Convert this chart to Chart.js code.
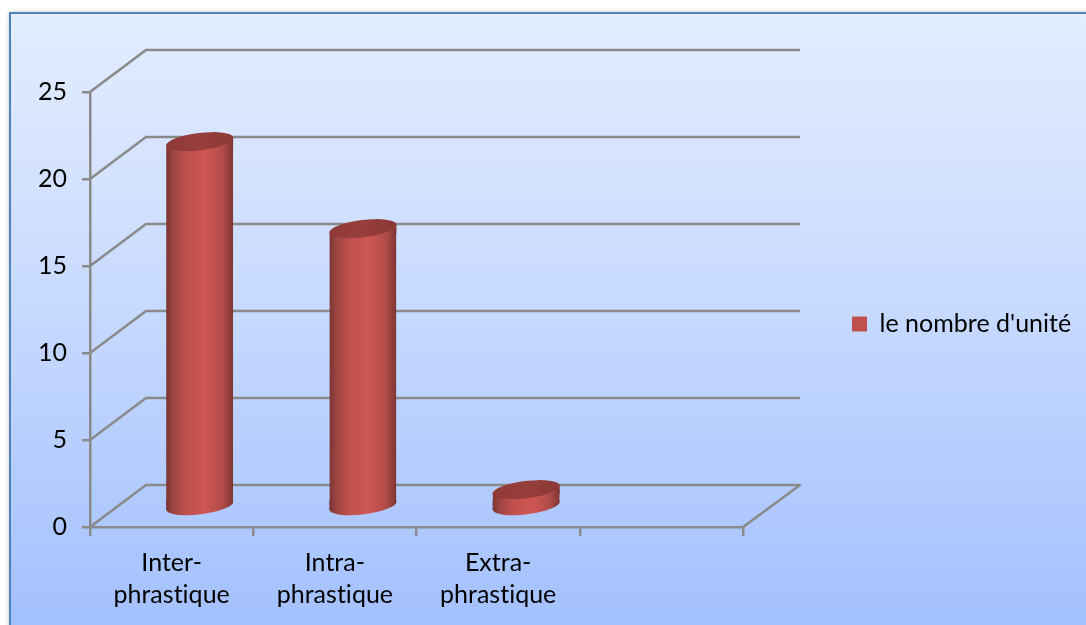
<!DOCTYPE html>
<html>
<head>
<meta charset="utf-8">
<style>html,body{margin:0;padding:0;background:#fff;overflow:hidden}canvas{display:block}</style>
<script src="https://cdn.jsdelivr.net/npm/chart.js@4"></script>
</head>
<body>
<canvas id="c" width="1086" height="625"></canvas>
<script>
const categories = [['Inter-','phrastique'],['Intra-','phrastique'],['Extra-','phrastique'],''];
const seriesName = "le nombre d'unité";
const values = [21, 16, 1, null];
const yMin = 0, yMax = 25, yStep = 5;

const FONT = 'Lato, Carlito, Calibri, sans-serif';
const FONT_SIZE = 25;
const AXIS = '#8a8a8a';
const BASE = '#C0504D';
const DX = 28, DY = -20, BACKX = 56, BACKY = -42;
const BARW = 67, RX = 33.8, RY = 8.6, TILT = -7 * Math.PI / 180, SLOPE = 4;

function shaded(ctx, cx, stops) {
  const g = ctx.createLinearGradient(cx - BARW/2, 0, cx + BARW/2, 0);
  stops.forEach(s => g.addColorStop(s[0], s[1]));
  return g;
}
const bodyStops = [[0,'#7a3432'],[0.1,'#9c4441'],[0.3,'#c0504d'],[0.6,'#cf5653'],[0.85,'#b04b48'],[1,'#7d3533']];
const capStops = [[0,'#8f3a38'],[0.5,'#973e3b'],[1,'#8b3836']];

function shown(meta) {
  return meta.data.filter((b, i) => values[i] !== null);
}

const panel = {
  id: 'panel',
  beforeDraw(chart) {
    const { ctx, width, height } = chart;
    ctx.letterSpacing = '0.01px';
    ctx.save();
    ctx.fillStyle = '#fff';
    ctx.fillRect(0, 0, width, height);
    ctx.shadowColor = 'rgba(0,0,0,0.35)';
    ctx.shadowBlur = 5;
    const g = ctx.createLinearGradient(0, 13, 0, 625);
    g.addColorStop(0, '#e3edff');
    g.addColorStop(0.45, '#c9dbff');
    g.addColorStop(1, '#a3c1ff');
    ctx.fillStyle = g;
    ctx.fillRect(10, 13, width + 20, height + 20);
    ctx.shadowColor = 'transparent';
    ctx.strokeStyle = '#4f81bd';
    ctx.lineWidth = 2;
    ctx.strokeRect(10, 13, width + 20, height + 20);
    ctx.restore();
  }
};

const walls = {
  id: 'walls',
  beforeDatasetsDraw(chart) {
    const { ctx, scales: { y }, chartArea: a } = chart;
    ctx.save();
    ctx.strokeStyle = AXIS;
    ctx.lineWidth = 2.5;
    ctx.lineJoin = 'round';
    y.ticks.forEach(t => {
      const py = y.getPixelForValue(t.value);
      ctx.beginPath();
      ctx.moveTo(a.left, py);
      ctx.lineTo(a.left + BACKX, py + BACKY);
      ctx.lineTo(a.right + BACKX + 1, py + BACKY);
      if (t.value === yMin) { ctx.lineTo(a.right, py); }
      ctx.stroke();
    });
    ctx.restore();
  }
};

function ellipse(ctx, cx, cy) {
  ctx.beginPath();
  ctx.ellipse(cx, cy, RX, RY, TILT, 0, Math.PI * 2);
  ctx.closePath();
}
function strip(ctx, b, yl, yr, y2) {
  ctx.beginPath();
  ctx.moveTo(b.x - BARW/2, yl);
  ctx.lineTo(b.x + BARW/2, yr);
  ctx.lineTo(b.x + BARW/2, y2);
  ctx.lineTo(b.x - BARW/2, y2);
  ctx.closePath();
  ctx.fill();
}

const cylinder = {
  id: 'cylinder',
  beforeDatasetDraw(chart, args) {
    const { ctx } = chart;
    const bars = shown(args.meta);
    ctx.save();
    ctx.translate(DX, DY);
    bars.forEach(b => {
      ctx.fillStyle = shaded(ctx, b.x, bodyStops);
      ellipse(ctx, b.x, b.base);
      ctx.fill();
      strip(ctx, b, b.base + SLOPE, b.base - SLOPE, b.base - SLOPE - 1);
      strip(ctx, b, b.y + SLOPE, b.y - SLOPE, b.y + SLOPE + 1);
    });
    ctx.beginPath();
    bars.forEach(b => {
      ctx.moveTo(b.x - BARW/2, b.y + SLOPE);
      ctx.lineTo(b.x + BARW/2, b.y - SLOPE);
      ctx.lineTo(b.x + BARW/2, b.base - SLOPE);
      ctx.lineTo(b.x - BARW/2, b.base + SLOPE);
      ctx.closePath();
    });
    ctx.clip();
  },
  afterDatasetDraw(chart, args) {
    const { ctx } = chart;
    ctx.restore();
    ctx.save();
    ctx.translate(DX, DY);
    shown(args.meta).forEach(b => {
      ellipse(ctx, b.x, b.y);
      ctx.fillStyle = shaded(ctx, b.x, capStops);
      ctx.fill();
    });
    ctx.restore();
  }
};

new Chart(document.getElementById('c'), {
  type: 'bar',
  data: {
    labels: categories,
    datasets: [{
      label: seriesName,
      data: values,
      barPercentage: 1,
      categoryPercentage: 67 / 163.25,
      borderWidth: 0,
      backgroundColor(c) {
        if (c.dataIndex === undefined || !c.chart.chartArea) return BASE;
        return shaded(c.chart.ctx, c.chart.scales.x.getPixelForValue(c.dataIndex), bodyStops);
      }
    }]
  },
  plugins: [panel, walls, cylinder],
  options: {
    responsive: false,
    animation: false,
    layout: { padding: { top: 23, bottom: 0, left: 0, right: 5 } },
    plugins: {
      tooltip: { enabled: false },
      title: { display: false },
      legend: {
        position: 'right',
        maxWidth: 320,
        labels: {
          boxWidth: 15, boxHeight: 15, padding: 10, color: '#000',
          font: { family: FONT, size: FONT_SIZE },
          generateLabels() {
            return [{ text: seriesName, fillStyle: BASE, strokeStyle: BASE, lineWidth: 0, datasetIndex: 0 }];
          }
        }
      }
    },
    scales: {
      x: {
        type: 'category',
        afterFit(s) { s.height = 98; },
        grid: { display: true, drawOnChartArea: false, tickLength: 9, color: AXIS, lineWidth: 2.5 },
        border: { color: AXIS, width: 2.5 },
        ticks: {
          autoSkip: false, maxRotation: 0, minRotation: 0, padding: 11, color: '#000',
          font: { family: FONT, size: FONT_SIZE, lineHeight: 1.28 }
        }
      },
      topSpace: {
        axis: 'x', type: 'linear', position: 'top', display: true,
        afterFit(s) { s.height = 69; },
        grid: { display: false, drawOnChartArea: false },
        border: { display: false },
        ticks: { display: false }
      },
      y: {
        min: yMin, max: yMax,
        afterFit(s) { s.width = 90; },
        grid: { display: true, drawOnChartArea: false, tickLength: 8, color: AXIS, lineWidth: 2.5 },
        border: { color: AXIS, width: 2.5 },
        ticks: {
          stepSize: yStep, padding: 15, color: '#000',
          font: { family: FONT, size: FONT_SIZE }
        }
      },
      side: {
        axis: 'y', position: 'right', display: true,
        afterFit(s) { s.width = 99; },
        grid: { display: false, drawOnChartArea: false },
        border: { display: false },
        ticks: { display: false }
      }
    }
  }
});
</script>
</body>
</html>
